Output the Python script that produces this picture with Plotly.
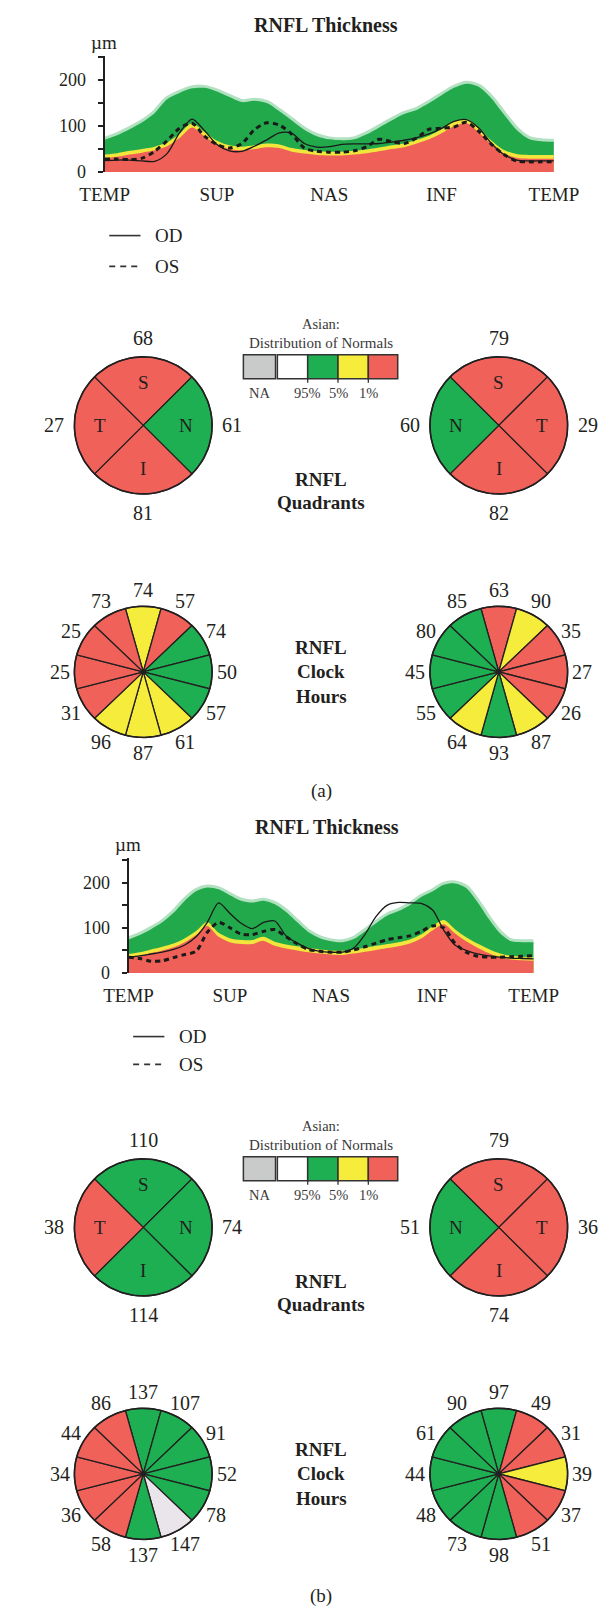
import numpy as np
import plotly.graph_objects as go

FONT = "Liberation Serif"
INK = "#231F20"

# ---------------- data ----------------
# position around the scan circle (degrees): TEMP -> SUP -> NAS -> INF -> TEMP
scan_deg = list(range(0, 361, 10))
cat_ticks = [0, 90, 180, 270, 360]
cat_labels = ["TEMP", "SUP", "NAS", "INF", "TEMP"]
y_ticks = [0, 50, 100, 150, 200, 250]
y_ticktext = ["0", "", "100", "", "200", ""]

# panel (a): normative bands (upper edge of each band, µm) and measured curves
a_green95 = [70, 80, 93, 108, 128, 158, 172, 182, 183, 175, 163, 152, 155, 150, 132, 112, 92, 78, 71,
             69, 71, 82, 97, 112, 126, 135, 150, 167, 183, 192, 185, 160, 125, 92, 72, 67, 66]
a_yellow5 = [38, 41, 46, 50, 55, 64, 83, 106, 87, 68, 58, 55, 58, 62, 60, 52, 48, 45, 44,
             44, 46, 49, 53, 58, 62, 70, 79, 93, 110, 115, 95, 68, 48, 39, 37, 37, 37]
a_red1 = [30, 33, 38, 42, 47, 56, 74, 97, 78, 60, 50, 47, 50, 54, 52, 44, 40, 37, 36,
          36, 38, 41, 45, 50, 54, 62, 71, 84, 100, 106, 86, 60, 40, 31, 29, 29, 29]
a_od = [25, 26, 26, 24, 23, 40, 85, 115, 90, 60, 46, 45, 56, 70, 85, 84, 62, 54, 55,
        60, 61, 61, 62, 65, 69, 75, 83, 95, 110, 114, 95, 62, 38, 26, 24, 24, 24]
a_os = [28, 28, 27, 30, 45, 68, 95, 106, 78, 60, 52, 62, 92, 107, 102, 82, 52, 45, 43,
        43, 46, 55, 71, 66, 62, 74, 93, 95, 98, 108, 88, 60, 38, 24, 22, 22, 22]

# panel (b)
b_green95 = [74, 84, 97, 112, 133, 160, 181, 189, 185, 172, 160, 156, 160, 152, 135, 112, 90, 77, 70,
             68, 75, 92, 110, 127, 137, 150, 168, 180, 195, 198, 188, 157, 120, 88, 70, 68, 68]
b_yellow5 = [42, 46, 52, 58, 65, 77, 93, 113, 89, 77, 73, 73, 80, 69, 63, 59, 55, 52, 50,
             49, 52, 56, 60, 64, 68, 74, 85, 103, 117, 97, 79, 65, 53, 43, 38, 36, 35]
b_red1 = [34, 38, 44, 50, 57, 68, 84, 104, 80, 68, 64, 64, 71, 60, 54, 50, 46, 43, 41,
          40, 43, 47, 51, 55, 59, 65, 76, 94, 108, 88, 70, 56, 44, 34, 30, 28, 27]
b_od = [35, 38, 42, 46, 52, 62, 80, 112, 155, 132, 110, 98, 112, 115, 82, 66, 54, 48, 46,
        46, 55, 85, 125, 150, 156, 155, 154, 140, 95, 62, 50, 42, 38, 35, 33, 32, 31]
b_os = [35, 32, 26, 27, 34, 41, 48, 90, 112, 100, 86, 85, 92, 96, 80, 64, 52, 48, 46,
        46, 51, 58, 66, 74, 78, 82, 92, 104, 100, 66, 46, 37, 35, 35, 36, 37, 38]

# quadrants, clockwise from the top
od_quad_letters = ["S", "N", "I", "T"]
os_quad_letters = ["S", "T", "I", "N"]
a_od_quad = [68, 61, 81, 27]
a_od_quad_cls = ["r", "g", "r", "r"]
a_os_quad = [79, 29, 82, 60]
a_os_quad_cls = ["r", "r", "r", "g"]
b_od_quad = [110, 74, 114, 38]
b_od_quad_cls = ["g", "g", "g", "r"]
b_os_quad = [79, 36, 74, 51]
b_os_quad_cls = ["r", "r", "r", "g"]

# clock hours 12, 1, 2, ..., 11
a_od_clock = [74, 57, 74, 50, 57, 61, 87, 96, 31, 25, 25, 73]
a_od_clock_cls = ["y", "r", "g", "g", "g", "y", "y", "y", "r", "r", "r", "r"]
a_os_clock = [63, 90, 35, 27, 26, 87, 93, 64, 55, 45, 80, 85]
a_os_clock_cls = ["r", "y", "r", "r", "r", "y", "g", "y", "g", "g", "g", "g"]
b_od_clock = [137, 107, 91, 52, 78, 147, 137, 58, 36, 34, 44, 86]
b_od_clock_cls = ["g", "g", "g", "g", "g", "w", "g", "r", "r", "r", "r", "r"]
b_os_clock = [97, 49, 31, 39, 37, 51, 98, 73, 48, 44, 61, 90]
b_os_clock_cls = ["g", "r", "r", "y", "r", "r", "g", "g", "g", "g", "g", "g"]

key_labels = ["NA", "95%", "5%", "1%"]

# ---------------- styles ----------------
COL = {"r": "#EF6159", "g": "#1DAF51", "y": "#F6EC3C", "w": "#E9E5EA", "na": "#C9CBCA"}
BAND_GREEN = "#22A94C"
BAND_HALO = "rgba(34,169,76,0.35)"
BAND_YELLOW = "#F2E63C"
BAND_RED = "#EE6058"

W, H = 615, 1613
fig = go.Figure()

panels = [
    dict(tag="a", px=(78, 567), py=(48, 165), ymax=253, ax="x", ay="y",
         green=a_green95, yellow=a_yellow5, red=a_red1, od=a_od, os=a_os,
         leg=(83, 117, 131, 229, 260), quad_cy=420, clock_cy=668, label_y=788,
         odq=a_od_quad, odqc=a_od_quad_cls, osq=a_os_quad, osqc=a_os_quad_cls,
         odc=a_od_clock, odcc=a_od_clock_cls, osc=a_os_clock, oscc=a_os_clock_cls),
    dict(tag="b", px=(104, 545), py=(855, 971), ymax=255, ax="x2", ay="y2",
         green=b_green95, yellow=b_yellow5, red=b_red1, od=b_od, os=b_os,
         leg=(109, 143, 157, 1035, 1063), quad_cy=1227, clock_cy=1475, label_y=1598,
         odq=b_od_quad, odqc=b_od_quad_cls, osq=b_os_quad, osqc=b_os_quad_cls,
         odc=b_od_clock, odcc=b_od_clock_cls, osc=b_os_clock, oscc=b_os_clock_cls),
]

annotations = []
shapes = []


def ann(x, y, text, size=20, color=INK, xanchor="center"):
    annotations.append(dict(x=x, y=y, xref="x5", yref="y5", text=text, showarrow=False,
                            xanchor=xanchor, yanchor="middle",
                            font=dict(family=FONT, size=size, color=color)))


def sector(cx, cy, rx, ry, a0, a1, color, lw=1.3):
    t = np.radians(np.linspace(a0, a1, 30))
    xs = np.concatenate([[cx], cx + rx * np.sin(t), [cx]])
    ys = np.concatenate([[cy], cy - ry * np.cos(t), [cy]])
    fig.add_trace(go.Scatter(x=xs, y=ys, mode="lines", fill="toself", fillcolor=color,
                             line=dict(color=INK, width=lw), xaxis="x5", yaxis="y5",
                             hoverinfo="skip", showlegend=False))


def outline(cx, cy, rx, ry):
    t = np.radians(np.linspace(0, 360, 181))
    fig.add_trace(go.Scatter(x=cx + rx * np.sin(t), y=cy - ry * np.cos(t), mode="lines",
                             line=dict(color=INK, width=1.6), xaxis="x5", yaxis="y5",
                             hoverinfo="skip", showlegend=False))


for p in panels:
    # --- thickness profile ---
    fig.add_trace(go.Scatter(x=scan_deg, y=p["green"], mode="lines",
                             line=dict(width=6, color=BAND_HALO, shape="spline", smoothing=0.8),
                             xaxis=p["ax"], yaxis=p["ay"], hoverinfo="skip", showlegend=False,
                             cliponaxis=True))
    for arr, col in ((p["green"], BAND_GREEN), (p["yellow"], BAND_YELLOW), (p["red"], BAND_RED)):
        fig.add_trace(go.Scatter(x=scan_deg, y=arr, mode="lines", fill="tozeroy", fillcolor=col,
                                 line=dict(width=0, color=col, shape="spline", smoothing=0.8),
                                 xaxis=p["ax"], yaxis=p["ay"], hoverinfo="skip", showlegend=False))
    fig.add_trace(go.Scatter(x=scan_deg, y=p["od"], mode="lines", name="OD",
                             line=dict(color="#1a1a1a", width=1.3, shape="spline", smoothing=0.8),
                             xaxis=p["ax"], yaxis=p["ay"], showlegend=False))
    fig.add_trace(go.Scatter(x=scan_deg, y=p["os"], mode="lines", name="OS",
                             line=dict(color="#1a1a1a", width=3, dash="5px,4px", shape="spline", smoothing=0.8),
                             xaxis=p["ax"], yaxis=p["ay"], showlegend=False))

    x0, x1 = p["px"]
    y0, y1 = p["py"]
    ann((x0 + x1) / 2 - 4, y0 - 31, "<b>RNFL Thickness</b>", size=20)
    ann(x0 - 1, y0 - 13, "µm", size=19)

    # legend key for the two eyes
    lx0, lx1, tx, yod, yos = p["leg"]
    shapes.append(dict(type="line", xref="x5", yref="y5", x0=lx0, x1=lx1, y0=yod, y1=yod,
                       line=dict(color="#333", width=1.6)))
    shapes.append(dict(type="line", xref="x5", yref="y5", x0=lx0, x1=lx1, y0=yos, y1=yos,
                       line=dict(color="#333", width=1.6, dash="6px,5px")))
    ann(tx, yod, "OD", size=19, xanchor="left")
    ann(tx, yos, "OS", size=19, xanchor="left")

    # --- quadrants ---
    cy = p["quad_cy"]
    for cx, vals, cls, letters in ((120, p["odq"], p["odqc"], od_quad_letters),
                                   (507, p["osq"], p["osqc"], os_quad_letters)):
        for k in range(4):
            sector(cx, cy, 75, 69, k * 90 - 45, k * 90 + 45, COL[cls[k]])
        outline(cx, cy, 75, 69)
        for k in range(4):
            a = np.radians(k * 90)
            ann(cx + 97 * np.sin(a), cy - 88 * np.cos(a), str(vals[k]))
            ann(cx + 47 * np.sin(a), cy - 43 * np.cos(a), letters[k], size=19)

    # colour key
    ann(314, cy - 102, "Asian:", size=14.5, color="#3a3a3a")
    ann(314, cy - 83, "Distribution of Normals", size=15, color="#3a3a3a")
    bt, bb = cy - 71, cy - 47
    edges = [229, 264, 266, 299, 332, 365, 397]
    shapes.append(dict(type="rect", xref="x5", yref="y5", x0=edges[0], x1=edges[1], y0=bt, y1=bb,
                       fillcolor=COL["na"], line=dict(color="#333", width=1.5)))
    for (xa, xb), c in zip(zip(edges[2:-1], edges[3:]), ["#FFFFFF", COL["g"], COL["y"], COL["r"]]):
        shapes.append(dict(type="rect", xref="x5", yref="y5", x0=xa, x1=xb, y0=bt, y1=bb,
                           fillcolor=c, line=dict(color="#333", width=1.5)))
    for xe in edges[3:6]:
        shapes.append(dict(type="line", xref="x5", yref="y5", x0=xe, x1=xe, y0=bb, y1=bb + 4,
                           line=dict(color="#333", width=1.3)))
    key_x = [(edges[0] + edges[1]) / 2, edges[3], edges[4], edges[5]]
    for kx, kl in zip(key_x, key_labels):
        ann(kx, cy - 33, kl, size=14.5, color="#3a3a3a")
    ann(314, cy + 54, "<b>RNFL</b>", size=19)
    ann(314, cy + 78, "<b>Quadrants</b>", size=19)

    # --- clock hours ---
    cy = p["clock_cy"]
    for cx, vals, cls in ((120, p["odc"], p["odcc"]), (507, p["osc"], p["oscc"])):
        for k in range(12):
            sector(cx, cy, 75, 66, k * 30 - 15, k * 30 + 15, COL[cls[k]])
        outline(cx, cy, 75, 66)
        for k in range(12):
            a = np.radians(k * 30)
            ann(cx + 91 * np.sin(a), cy - 82 * np.cos(a), str(vals[k]))
        fig.add_trace(go.Scatter(x=[cx], y=[cy], mode="markers", marker=dict(color=INK, size=5),
                                 xaxis="x5", yaxis="y5", hoverinfo="skip", showlegend=False))
    ann(314, cy - 25, "<b>RNFL</b>", size=19)
    ann(314, cy, "<b>Clock</b>", size=19)
    ann(314, cy + 25, "<b>Hours</b>", size=19)

    ann(314, p["label_y"], "(%s)" % p["tag"], size=19)


def xdom(a, b):
    return [a / W, b / W]


def ydom(top, bottom):
    return [1 - bottom / H, 1 - top / H]


xa_common = dict(range=[0, 360], tickvals=cat_ticks, ticktext=cat_labels, showgrid=False,
                 zeroline=False, showline=False, ticks="", ticklabelstandoff=9,
                 tickfont=dict(family=FONT, size=19, color=INK), fixedrange=True)
ya_common = dict(tickvals=y_ticks, ticktext=y_ticktext, showgrid=False, zeroline=False,
                 showline=True, linecolor=INK, linewidth=2, ticks="outside", ticklen=5,
                 tickwidth=1.6, tickcolor=INK, tickfont=dict(family=FONT, size=18, color=INK),
                 ticklabelstandoff=8, fixedrange=True)
yin_common = dict(tickvals=y_ticks, ticks="inside", ticklen=8, tickwidth=1.6, tickcolor=INK,
                  showticklabels=False, showline=False, showgrid=False, zeroline=False,
                  fixedrange=True)

pa, pb = panels
fig.update_layout(
    width=W, height=H, margin=dict(l=0, r=0, t=0, b=0),
    paper_bgcolor="white", plot_bgcolor="rgba(0,0,0,0)", showlegend=False,
    xaxis=dict(domain=xdom(*pa["px"]), anchor="y", **xa_common),
    yaxis=dict(domain=ydom(*pa["py"]), anchor="x", range=[0, pa["ymax"]], **ya_common),
    yaxis3=dict(overlaying="y", anchor="x", range=[0, pa["ymax"]], **yin_common),
    xaxis2=dict(domain=xdom(*pb["px"]), anchor="y2", **xa_common),
    yaxis2=dict(domain=ydom(*pb["py"]), anchor="x2", range=[0, pb["ymax"]], **ya_common),
    yaxis4=dict(overlaying="y2", anchor="x2", range=[0, pb["ymax"]], **yin_common),
    xaxis5=dict(domain=[0, 1], range=[0, W], visible=False, fixedrange=True),
    yaxis5=dict(domain=[0, 1], range=[H, 0], visible=False, fixedrange=True),
    annotations=annotations, shapes=shapes,
)

fig.write_html("out.html")
